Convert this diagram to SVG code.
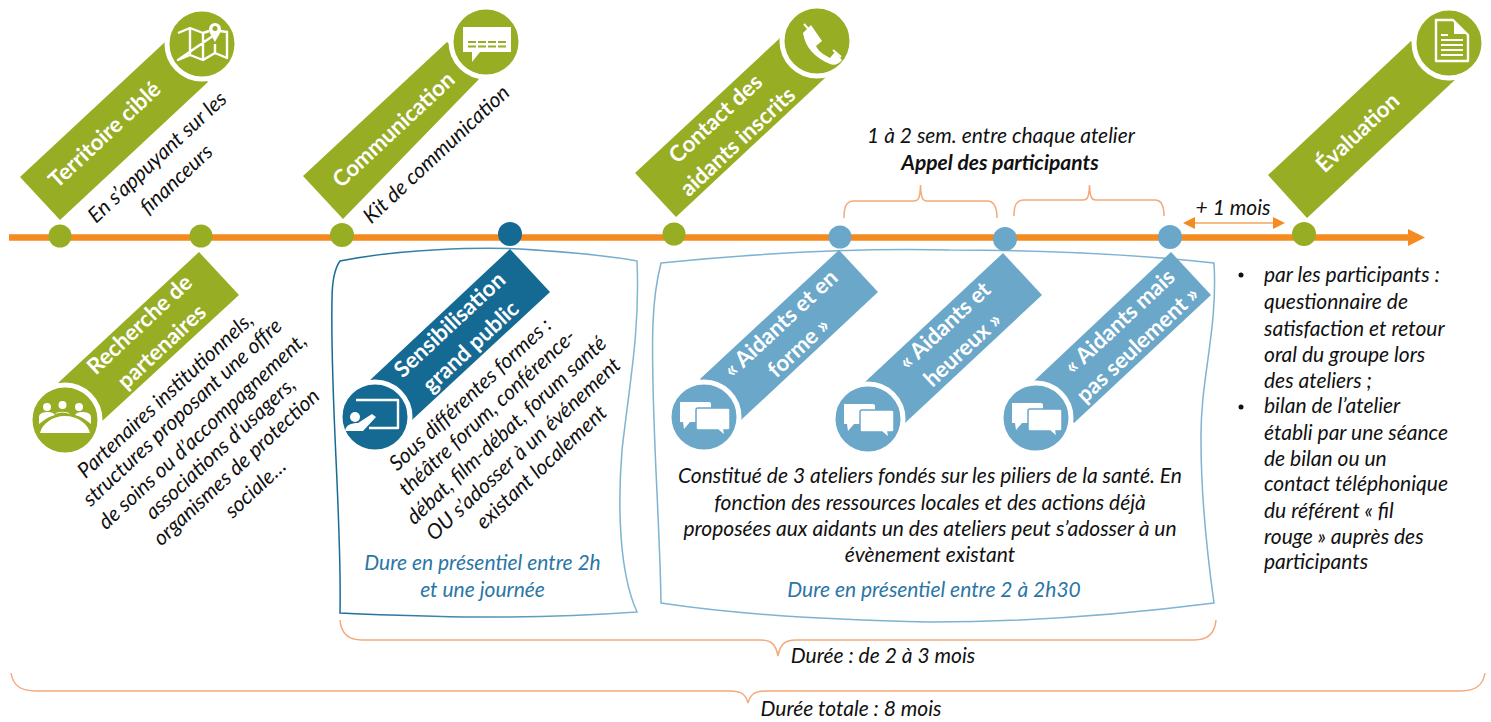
<svg xmlns="http://www.w3.org/2000/svg" width="1491" height="722" viewBox="0 0 1491 722">
<style>
text{font-family:Lato,"Open Sans","Liberation Sans",sans-serif}
.g{fill:#97ae24}.d{fill:#156a94}.l{fill:#6aa7c9}
.ring{stroke:#fff;stroke-width:5}
.t{fill:#fff;font-weight:700;font-size:22.300px;text-anchor:middle}
.b{fill:#111;font-style:italic;font-size:21px;text-anchor:middle}
.s{fill:#111;font-style:italic;font-size:21px}
.u{fill:#2a76a6;font-style:italic;font-size:21px;text-anchor:middle}
.br{fill:none;stroke:#f4a97a;stroke-width:1.5}
.ic{fill:none;stroke:#fff;stroke-width:2.4;stroke-linejoin:round}
.if{fill:#fff}
</style>
<defs>
<linearGradient id="bx1" x1="0" x2="1" y1="0" y2="0"><stop offset="0" stop-color="#156a94"/><stop offset="1" stop-color="#84b6d2"/></linearGradient>
<symbol id="chat" overflow="visible">
<path class="if" d="M-24,-15h29a2,2 0 0 1 2,2v18h-31z M-21,5l1,7 6,-7z"/>
<path class="if" stroke="#6aa7c9" stroke-width="1.5" d="M-6,-9h30a2,2 0 0 1 2,2v18a2,2 0 0 1 -2,2h-4l1,6 -7,-6h-20a2,2 0 0 1 -2,-2v-18a2,2 0 0 1 2,-2z"/>
</symbol>
</defs>
<g id="connectors">
<path d="M9,237.5H1408" stroke="#f58a1f" stroke-width="6.5" fill="none"/>
<path d="M1408,229L1425,237.5L1408,246z" fill="#f58a1f"/>
<path class="br" d="M844,218C844,207 846,201 854,201H914C919,201 920,197 920.5,185C921,197 922,201 927,201H987C994,201 997,207 997,218"/>
<path class="br" d="M1014,216C1014,206 1016,200 1024,200H1083C1088,200 1089,196 1089.5,185C1090,196 1091,200 1096,200H1155C1162,200 1164,206 1164,216"/>
<path d="M1190,223H1278" stroke="#f4a460" stroke-width="1.5"/>
<path d="M1183,223L1195,217V229z M1285,223L1273,217V229z" fill="#f58a1f"/>
<path class="br" d="M340,620C341,633 348,640 362,640H760C772,640 776,645 778,656C780,645 784,640 796,640H1194C1208,640 1215,633 1216,620"/>
<path class="br" d="M11,673C13,685 20,691 36,691H730C742,691 746,695 748,703C750,695 754,691 766,691H1460C1476,691 1483,685 1485,673"/>
</g>
<g id="n-territoire">
<circle class="g" cx="60" cy="236" r="11.5"/>
<path class="g" d="M20,177L60,220L208,82L165,42z"/>
<circle class="g ring" cx="202" cy="44" r="35"/>
<path class="ic" d="M178,33L190,28L203,33L209,31M220,31L227,32V58L215,53L203,60L190,55L178,60z M190,28V55M203,33V60M215,44V53"/>
<path class="if" d="M215,42C212,36 209,33 209,29A6,6 0 0 1 221,29C221,33 218,36 215,42z"/>
<circle class="g" cx="215" cy="28.500" r="2.500"/>
<text class="t" transform="translate(105,135) rotate(-43)" y="7">Territoire ciblé</text>
<text class="b" transform="translate(158,158) rotate(-43)" y="6">En s’appuyant sur les</text>
<text class="b" transform="translate(177,180) rotate(-43)" y="6">financeurs</text>
</g>
<g id="n-recherche">
<circle class="g" cx="201" cy="236" r="11.500"/>
<path class="g" d="M199,252L239,295L100,423L58,383z"/>
<circle class="g ring" cx="65" cy="420" r="35"/>
<circle class="if" cx="47" cy="407" r="4"/><circle class="if" cx="62.500" cy="405" r="4"/><circle class="if" cx="79" cy="407" r="4"/>
<path class="if" d="M39,424V417C39,413 44,412 48,412C51,412 54,413 55,415C50,416 45,419 39,424z M55,414C57,411 68,411 70,414C65,412 60,412 55,414z M91,424V417C91,413 86,412 82,412C79,412 76,413 75,415C80,416 85,419 91,424z"/>
<path class="if" d="M40,433C42,424 52,416 65,416C78,416 88,424 90,433z"/>
<text class="t" transform="translate(140,325) rotate(-43)" y="7">Recherche de</text>
<text class="t" transform="translate(162,347) rotate(-43)" y="7">partenaires</text>
<text class="b" transform="translate(166,396) rotate(-43)" y="6">Partenaires institutionnels,</text>
<text class="b" transform="translate(183,413) rotate(-43)" y="6">structures proposant une offre</text>
<text class="b" transform="translate(203,432) rotate(-43)" y="6">de soins ou d’accompagnement,</text>
<text class="b" transform="translate(221,449) rotate(-43)" y="6">associations d’usagers,</text>
<text class="b" transform="translate(237,468) rotate(-43)" y="6">organismes de protection</text>
<text class="b" transform="translate(256,489) rotate(-43)" y="6">sociale…</text>
</g>
<g id="n-communication">
<circle class="g" cx="342" cy="235" r="12"/>
<path class="g" d="M303,176L343,219L483,75L447,42z"/>
<circle class="g ring" cx="486" cy="42" r="35"/>
<path class="if" d="M463,27H511V52H480L472,62V52H463z"/>
<path d="M468,42H508M468,46.500H508" stroke="#97ae24" stroke-width="2" stroke-dasharray="8 2"/>
<text class="t" transform="translate(394,130) rotate(-43)" y="7">Communication</text>
<text class="b" transform="translate(437,155) rotate(-43)" y="6">Kit de communication</text>
</g>
<g id="n-sensibilisation">
<circle class="d" cx="510" cy="234" r="12"/>
<path d="M340,261C400,249 480,247 520,249C570,252 610,256 637,261C640,330 630,380 622,450C618,500 618,570 637,612C520,620 430,617 340,613C342,520 330,400 332,300C332,280 335,268 340,261z" fill="#fff" stroke="url(#bx1)" stroke-width="1.500"/>
<path class="d" d="M510,249L550,292L412,420L368,382z"/>
<circle class="d ring" cx="375" cy="417" r="35"/>
<path class="ic" d="M356,400H398V428H369" stroke-width="2"/>
<circle class="if" cx="355" cy="417" r="5"/>
<path class="if" d="M345,431C346,425 351,423 358,423L372,414L376,417L363,431z"/>
<text class="t" transform="translate(450,325) rotate(-43)" y="7">Sensibilisation</text>
<text class="t" transform="translate(471,347) rotate(-43)" y="7">grand public</text>
<text class="b" transform="translate(471,395) rotate(-43)" y="6">Sous différentes formes :</text>
<text class="b" transform="translate(488,413) rotate(-43)" y="6">théâtre forum, conférence-</text>
<text class="b" transform="translate(507,431) rotate(-43)" y="6">débat, film-débat, forum santé</text>
<text class="b" transform="translate(524,450) rotate(-43)" y="6">OU  s’adosser à un événement</text>
<text class="b" transform="translate(542,468) rotate(-43)" y="6">existant localement</text>
<text class="u" x="482.500" y="570">Dure en présentiel entre 2h</text>
<text class="u" x="482.500" y="597">et une journée</text>
</g>
<g id="n-contact">
<circle class="g" cx="674" cy="234" r="11.500"/>
<path class="g" d="M635,173L676,217L826,77L780,38z"/>
<circle class="g ring" cx="817" cy="41" r="35"/>
<path class="if" d="M803,33L811,25L822,41L816,46C818,51 824,55 830,58L835,52L842,60C839,64 834,66 830,64C815,58 805,47 803,33z"/>
<path d="M804,24L812,33M833,50L841,57" stroke="#fff" stroke-width="2"/>
<text class="t" transform="translate(716,119) rotate(-43)" y="7">Contact des</text>
<text class="t" transform="translate(738,142) rotate(-43)" y="7">aidants inscrits</text>
</g>
<g id="box-ateliers">
<path d="M661,263C760,253 860,248 950,250C1050,250 1140,255 1214,263C1218,330 1200,380 1201,440C1201,500 1208,560 1214,603C1120,615 1020,622 930,622C830,620 740,615 661,603C660,520 650,400 653,323C654,295 658,275 661,263z" fill="#fff" stroke="#7fb3d1" stroke-width="1.500"/>
<text class="s" x="930" y="483" text-anchor="middle">Constitué de 3 ateliers fondés sur les piliers de la santé. En</text>
<text class="s" x="930" y="510" text-anchor="middle">fonction des ressources locales et des actions  déjà</text>
<text class="s" x="930" y="536" text-anchor="middle">proposées aux aidants  un des ateliers peut s’adosser à un</text>
<text class="s" x="930" y="562" text-anchor="middle">évènement existant</text>
<text class="u" x="934" y="597">Dure en présentiel entre 2 à 2h30</text>
</g>
<g id="n-atelier1">
<circle class="l" cx="840" cy="237" r="11.500"/>
<path class="l" d="M839,250L878,292L741,420L700,379z"/>
<circle class="l ring" cx="704" cy="417" r="35"/>
<use href="#chat" x="704" y="417"/>
<text class="t" transform="translate(781,324) rotate(-43)" y="7">« Aidants et en</text>
<text class="t" transform="translate(799,348) rotate(-43)" y="7">forme »</text>
</g>
<g id="n-atelier2">
<circle class="l" cx="1005" cy="239" r="12"/>
<path class="l" d="M1003,253L1042,295L905,423L865,382z"/>
<circle class="l ring" cx="868" cy="419" r="35"/>
<use href="#chat" x="868" y="419"/>
<text class="t" transform="translate(945,326) rotate(-43)" y="7">« Aidants et</text>
<text class="t" transform="translate(963,350) rotate(-43)" y="7">heureux »</text>
</g>
<g id="n-atelier3">
<circle class="l" cx="1170" cy="237" r="12"/>
<path class="l" d="M1171,252L1211,295L1074,423L1034,381z"/>
<circle class="l ring" cx="1036" cy="418" r="35"/>
<use href="#chat" x="1036" y="418"/>
<text class="t" transform="translate(1120,322) rotate(-43)" y="7">« Aidants mais</text>
<text class="t" transform="translate(1138,345) rotate(-43)" y="7">pas seulement »</text>
</g>
<g id="n-evaluation">
<circle class="g" cx="1304" cy="234" r="12"/>
<path class="g" d="M1268,175L1307,218L1457,78L1411,41z"/>
<circle class="g ring" cx="1449" cy="43" r="35"/>
<path class="ic" d="M1436,20H1453L1468,35V61H1436z"/>
<path class="if" d="M1454,21L1467,34H1454z"/>
<path d="M1441,35H1448M1441,40H1463M1441,45H1463M1441,50H1463M1441,55H1463" stroke="#fff" stroke-width="1.800"/>
<text class="t" transform="translate(1358,133) rotate(-43)" y="7">Évaluation</text>
</g>
<g id="labels">
<text class="b" x="1001" y="143">1 à 2 sem. entre chaque atelier</text>
<text class="b" x="1000" y="170" style="font-weight:700">Appel des participants</text>
<text class="b" x="1233" y="215">+ 1 mois</text>
<text class="b" x="883" y="663">Durée : de 2 à 3 mois</text>
<text class="b" x="851" y="716">Durée totale : 8 mois</text>
<circle cx="1241" cy="275" r="2.500" fill="#111"/>
<text class="s" x="1264" y="282">par les participants :</text>
<text class="s" x="1264" y="309">questionnaire de</text>
<text class="s" x="1264" y="336">satisfaction et retour</text>
<text class="s" x="1264" y="362">oral du groupe lors</text>
<text class="s" x="1264" y="388">des ateliers ;</text>
<circle cx="1241" cy="407" r="2.500" fill="#111"/>
<text class="s" x="1264" y="413">bilan de l’atelier</text>
<text class="s" x="1264" y="440">établi par une séance</text>
<text class="s" x="1264" y="466">de bilan ou un</text>
<text class="s" x="1264" y="491">contact téléphonique</text>
<text class="s" x="1264" y="518">du référent « fil</text>
<text class="s" x="1264" y="544">rouge » auprès des</text>
<text class="s" x="1264" y="569">participants</text>
</g>
</svg>
